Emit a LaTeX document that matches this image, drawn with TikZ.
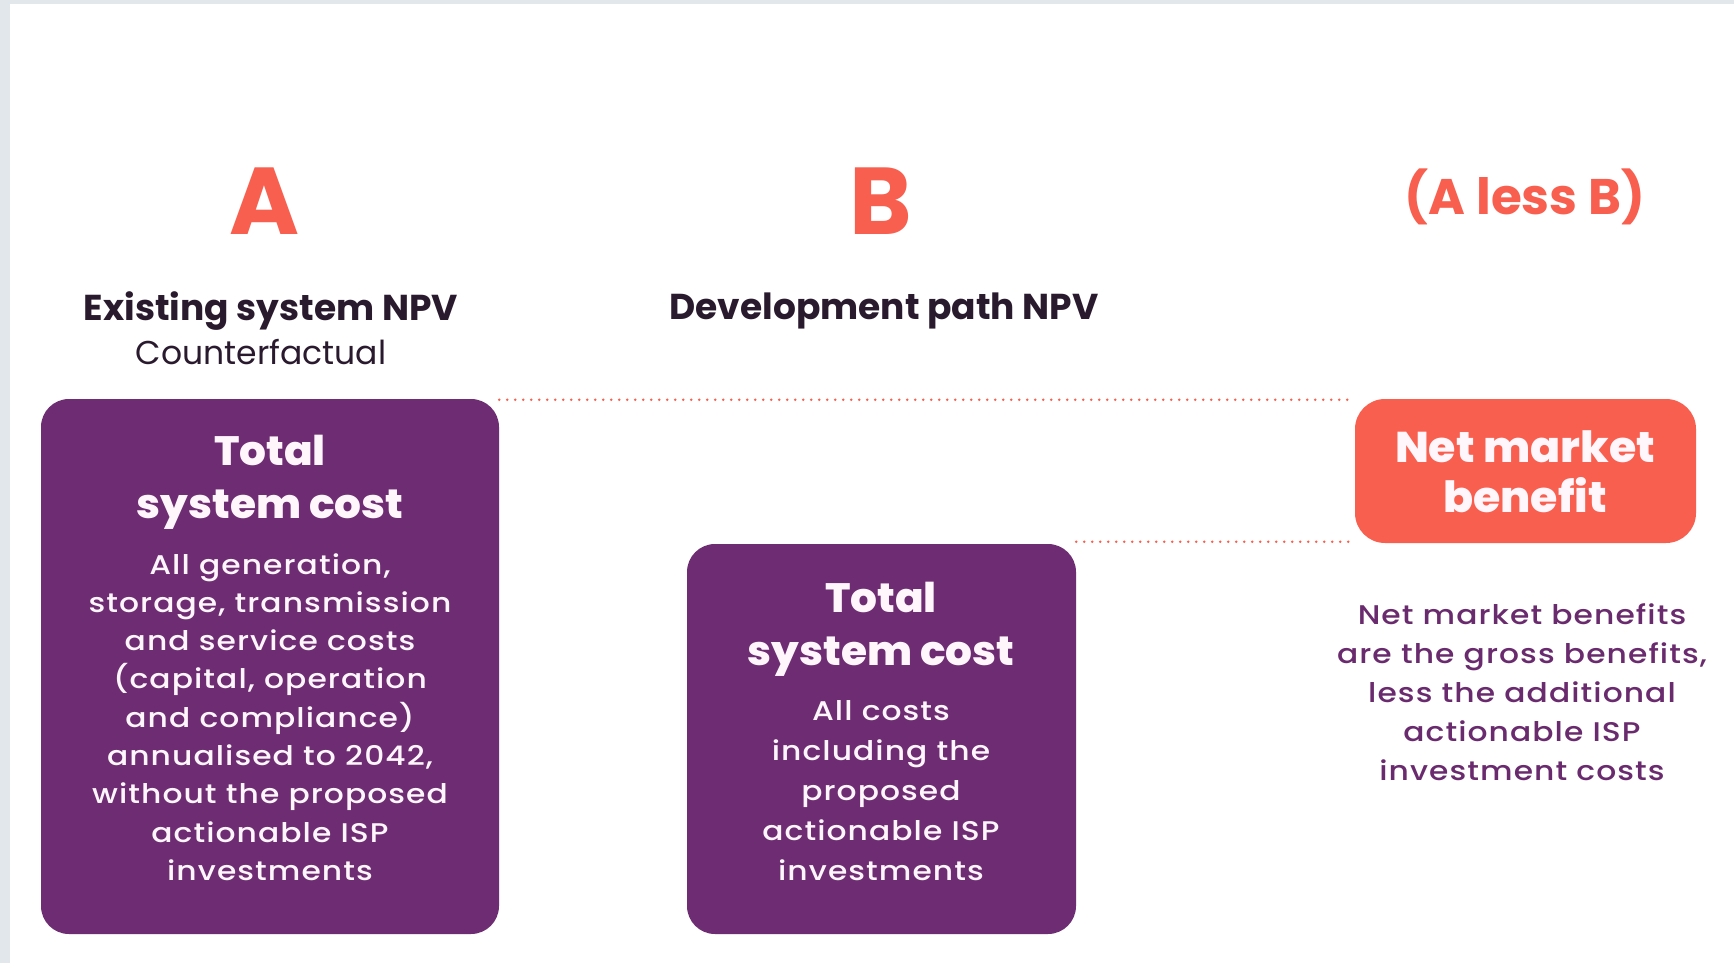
\documentclass[tikz,border=0pt]{standalone}
\usepackage{fontspec}
\setmainfont{Poppins}
\newfontfamily\medf[FakeStretch=1.16, LetterSpace=4]{Poppins Medium}
\newfontfamily\xbf[FakeStretch=1.03]{Poppins ExtraBold}
\definecolor{purp}{HTML}{6E2C72}
\definecolor{coral}{HTML}{F85F4E}
\definecolor{framegray}{HTML}{E1E7EA}
\definecolor{ink}{HTML}{2A1A2E}
\definecolor{purptext}{HTML}{6A2B6E}
\definecolor{boxtext}{HTML}{FFF6FC}
\tikzset{
  purpbox/.style={fill=purp, draw=none, rounded corners=28pt, inner sep=0pt},
  netbox/.style={fill=coral, draw=none, rounded corners=30pt, inner sep=0pt},
  bigletter/.style={text=coral, font=\bfseries\fontsize{95}{95}\selectfont, inner sep=0pt},
  colhead/.style={text=ink, font=\bfseries\fontsize{36}{40}\selectfont, inner sep=0pt},
  colsub/.style={text=ink, font=\fontsize{33}{38}\selectfont, inner sep=0pt},
  boxhead/.style={text=boxtext, align=center, font=\xbf\fontsize{41}{53}\selectfont, inner sep=0pt},
  boxbody/.style={text=boxtext, align=center, font=\medf\fontsize{27}{38.3}\selectfont, inner sep=0pt},
  nethead/.style={text=boxtext, align=center, font=\xbf\fontsize{43}{50}\selectfont, inner sep=0pt},
  desc/.style={text=purptext, align=center, font=\medf\fontsize{27}{39}\selectfont, inner sep=0pt},
  dotline/.style={draw=coral, line width=2.8pt, line cap=round, dash pattern=on 0pt off 8pt}
}
\begin{document}
\begin{tikzpicture}[x=1pt,y=-1pt]
  % background and frame
  \fill[framegray] (0,0) rectangle (1734,963);
  \fill[white] (10,4) rectangle (1734,963);
  \useasboundingbox (0,0) rectangle (1734,963);

  % boxes
  \node[purpbox, minimum width=458pt, minimum height=535pt] (boxA) at (270,666.5) {};
  \node[purpbox, minimum width=389pt, minimum height=390pt] (boxB) at (881.5,739) {};
  \node[netbox, minimum width=341pt, minimum height=144pt] (net) at (1525.5,471) {};

  % dotted connectors
  \draw[dotline] ([yshift=-1pt]boxA.north east) -- ([yshift=-1pt]net.north west);
  \draw[dotline] ([yshift=2pt]boxB.north east) -- ([yshift=2pt]boxB.north east -| net.west);

  % column letters
  \node[bigletter] (letA) at (265,201) {A};
  \node[bigletter] (letB) at (881,201) {B};
  \node[text=coral, font=\bfseries\fontsize{50}{50}\selectfont, inner sep=0pt] (aless) at (1525,197) {(A less B)};

  % column headings
  \node[colhead] (headA) at (271,311) {Existing system NPV};
  \node[colsub] (subA) at (261,352) {Counterfactual};
  \node[colhead] (headB) at (884,311) {Development path NPV};

  % box A text
  \node[boxhead] (titleA) at (270,482) {Total\\system cost};
  \node[boxbody] (bodyA) at (270,717) {All generation,\\storage, transmission\\and service costs\\(capital, operation\\and compliance)\\annualised to 2042,\\without the proposed\\actionable ISP\\investments};

  % box B text
  \node[boxhead] (titleB) at (881,629) {Total\\system cost};
  \node[boxbody, font=\medf\fontsize{27}{40}\selectfont] (bodyB) at (881,791) {All costs\\including the\\proposed\\actionable ISP\\investments};

  % net box text
  \node[nethead] (netT) at (1525,472) {Net market\\benefit};

  % description
  \node[desc] (descN) at (1522,692) {Net market benefits\\are the gross benefits,\\less the additional\\actionable ISP\\investment costs};
\end{tikzpicture}
\end{document}
